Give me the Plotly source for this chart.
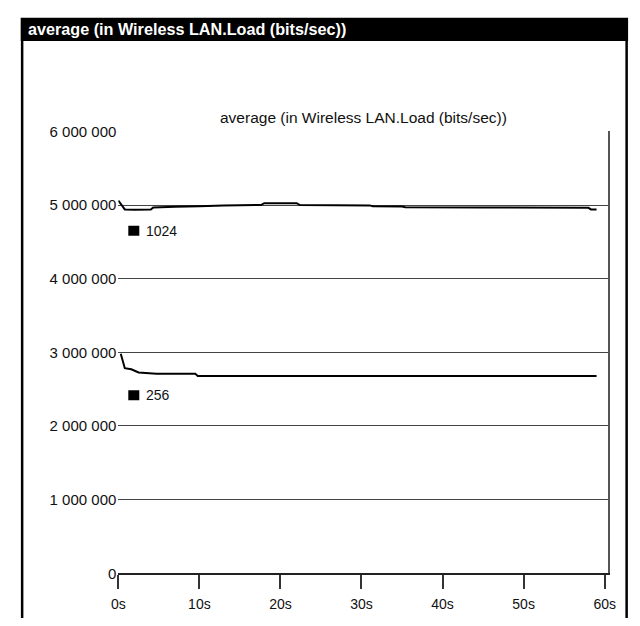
import numpy as np
import plotly.graph_objects as go

W, H = 640, 626

# Simulation time (s) and average wireless LAN load (bits/sec) per packet size
times_1024 = [0, 0.4, 0.8, 2, 4, 4.3, 6.5, 7, 10, 13, 17.6, 18, 22, 22.4,
              31, 31.4, 35, 35.4, 45, 55, 58, 58.3, 59]
load_1024 = [5060000, 5000000, 4940000, 4935000, 4940000, 4965000, 4965000,
             4975000, 4985000, 4995000, 5000000, 5025000, 5025000, 5000000,
             4995000, 4985000, 4980000, 4970000, 4968000, 4965000, 4962000,
             4940000, 4940000]

times_256 = [0.3, 0.6, 0.8, 1.6, 2.5, 4.7, 9.5, 9.8, 30, 59]
load_256 = [2980000, 2850000, 2785000, 2770000, 2727000, 2710000, 2710000,
            2680000, 2680000, 2680000]

series = [("1024", times_1024, load_1024), ("256", times_256, load_256)]

y_tickvals = [0, 1000000, 2000000, 3000000, 4000000, 5000000, 6000000]
y_ticktext = ["0", "1 000 000", "2 000 000", "3 000 000", "4 000 000",
              "5 000 000", "6 000 000"]
x_tickvals = [0, 10, 20, 30, 40, 50, 60]
x_ticktext = ["0s", "10s", "20s", "30s", "40s", "50s", "60s"]

title = "average (in Wireless LAN.Load (bits/sec))"
FONT = "Liberation Sans, Arial, sans-serif"

# Pixel drop of each series tag below its curve
tag_drop = {"1024": 21, "256": 26}


def fx(px):
    return px / W


def fy(py):
    return (H - py) / H


fig = go.Figure()

for name, t, v in series:
    fig.add_trace(go.Scatter(x=t, y=v, mode="lines", name=name,
                             line=dict(color="black", width=2),
                             showlegend=False, hoverinfo="skip"))

# Invisible trace that carries the right-hand frame line and gridlines
fig.add_trace(go.Scatter(x=[0], y=[0], yaxis="y2", mode="markers",
                         marker=dict(opacity=0), showlegend=False,
                         hoverinfo="skip"))

shapes = []
annotations = []

# Series labels: a small black square with the series name beneath each curve
label_t = 1.6
for name, t, v in series:
    yv = float(np.interp(label_t, t, v))
    d = tag_drop[name]
    shapes.append(dict(type="rect", xref="x", yref="y",
                       xsizemode="pixel", ysizemode="pixel",
                       xanchor=label_t, yanchor=yv,
                       x0=-3, x1=8, y0=-d - 5, y1=-d + 5,
                       fillcolor="black", line=dict(width=0)))
    annotations.append(dict(x=label_t, y=yv, xref="x", yref="y",
                            text=name, showarrow=False,
                            xanchor="left", yanchor="middle",
                            xshift=13, yshift=-d,
                            font=dict(family=FONT, size=14, color="#111")))

# Window header bar
shapes.append(dict(type="rect", xref="paper", yref="paper",
                   x0=fx(14), x1=fx(636), y0=fy(33), y1=fy(9),
                   fillcolor="black", line=dict(width=0)))
# Window side borders
shapes.append(dict(type="line", xref="paper", yref="paper",
                   x0=fx(15.5), x1=fx(15.5), y0=fy(33), y1=fy(H),
                   line=dict(color="black", width=2.5)))
shapes.append(dict(type="line", xref="paper", yref="paper",
                   x0=fx(634.5), x1=fx(634.5), y0=fy(33), y1=fy(H),
                   line=dict(color="black", width=2.5)))

annotations.append(dict(x=fx(19), y=fy(21), xref="paper", yref="paper",
                        text="<b>" + title + "</b>", showarrow=False,
                        xanchor="left", yanchor="middle",
                        font=dict(family=FONT, size=16.2, color="white")))
annotations.append(dict(x=fx(365), y=fy(112), xref="paper", yref="paper",
                        text=title, showarrow=False,
                        xanchor="center", yanchor="middle",
                        font=dict(family=FONT, size=15.5, color="#111")))

x_dom = [fx(114), fx(615)]
y_dom = [fy(580), fy(125.8)]

fig.update_layout(
    width=W, height=H, autosize=False,
    margin=dict(l=0, r=0, t=0, b=0),
    paper_bgcolor="white", plot_bgcolor="white",
    showlegend=False,
    shapes=shapes, annotations=annotations,
    xaxis=dict(domain=x_dom, range=[0, 60.36], tickvals=x_tickvals,
               ticktext=x_ticktext, showgrid=False, zeroline=False,
               showline=True, linecolor="#222", linewidth=1.5,
               ticks="outside", ticklen=14, tickwidth=1.5, tickcolor="#333",
               ticklabelstandoff=3,
               tickfont=dict(family=FONT, size=14, color="#111"),
               fixedrange=True),
    yaxis=dict(domain=y_dom, range=[0, 6000000], tickvals=y_tickvals,
               ticktext=y_ticktext, showgrid=False, zeroline=False,
               showline=False, ticks="", ticklabelstandoff=1,
               tickfont=dict(family=FONT, size=15, color="#111"),
               fixedrange=True),
    yaxis2=dict(domain=y_dom, range=[0, 6000000], overlaying="y",
                side="right", anchor="x",
                tickvals=[1000000, 2000000, 3000000, 4000000, 5000000],
                showticklabels=False, ticks="",
                showgrid=True, gridcolor="#444", gridwidth=1,
                zeroline=False, showline=True, linecolor="#555",
                linewidth=1.5, fixedrange=True),
)

fig.write_html("out.html")
